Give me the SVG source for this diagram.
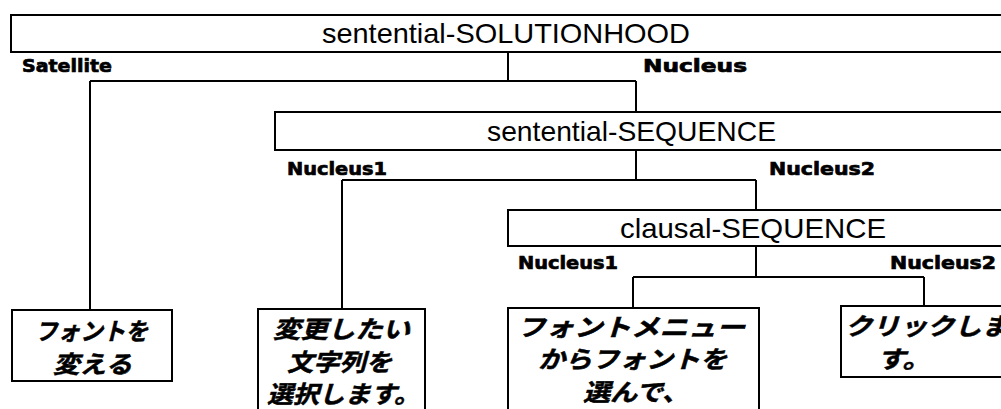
<svg xmlns="http://www.w3.org/2000/svg" width="1001" height="409" viewBox="0 0 1001 409">
<style>
.box{fill:#fff;stroke:#000;stroke-width:2}
.con{fill:none;stroke:#000;stroke-width:2}
.title{font-family:"Liberation Sans",Arial,sans-serif;font-size:28px;fill:#000}
.lab{font-family:"DejaVu Sans","Liberation Sans",sans-serif;font-weight:bold;font-size:18px;fill:#000;stroke:#000;stroke-width:0.7}
.jp{font-family:"Noto Sans CJK JP",sans-serif;font-weight:bold;font-style:italic;font-size:24px;fill:#000;stroke:#000;stroke-width:0.5}
</style>
<rect width="1001" height="409" fill="#fff"/>
<g id="connectors">
<path class="con" d="M508,52V81M90,81H636M90,81V310M636,81V112"/>
<path class="con" d="M636,150V180M342,180H756M342,180V309M756,180V210"/>
<path class="con" d="M756,246V277M633,277H924M633,277V308M924,277V306"/>
</g>
<g id="n-solutionhood">
<rect class="box" x="11" y="15" width="1000" height="37"/>
<text class="title" x="322" y="43" textLength="368" lengthAdjust="spacingAndGlyphs">sentential-SOLUTIONHOOD</text>
</g>
<g id="lab-satellite"><text class="lab" x="22" y="72" textLength="90" lengthAdjust="spacingAndGlyphs">Satellite</text></g>
<g id="lab-nucleus"><text class="lab" x="643" y="72" textLength="104" lengthAdjust="spacingAndGlyphs">Nucleus</text></g>
<g id="n-sequence">
<rect class="box" x="275" y="112" width="740" height="38"/>
<text class="title" x="487" y="141" textLength="289" lengthAdjust="spacingAndGlyphs">sentential-SEQUENCE</text>
</g>
<g id="lab-n1a"><text class="lab" x="287" y="175" textLength="100" lengthAdjust="spacingAndGlyphs">Nucleus1</text></g>
<g id="lab-n2a"><text class="lab" x="769" y="175" textLength="106" lengthAdjust="spacingAndGlyphs">Nucleus2</text></g>
<g id="n-clausal">
<rect class="box" x="508" y="210" width="510" height="36"/>
<text class="title" x="620" y="238" textLength="266" lengthAdjust="spacingAndGlyphs">clausal-SEQUENCE</text>
</g>
<g id="lab-n1b"><text class="lab" x="518" y="269" textLength="100" lengthAdjust="spacingAndGlyphs">Nucleus1</text></g>
<g id="lab-n2b"><text class="lab" x="890" y="269" textLength="106" lengthAdjust="spacingAndGlyphs">Nucleus2</text></g>
<g id="leaf1">
<rect class="box" x="12" y="310" width="160" height="71"/>
<text class="jp" x="35" y="340" textLength="113" lengthAdjust="spacingAndGlyphs">フォントを</text>
<text class="jp" x="53" y="373" textLength="79" lengthAdjust="spacingAndGlyphs">変える</text>
</g>
<g id="leaf2">
<rect class="box" x="258" y="309" width="167" height="110"/>
<text class="jp" x="273" y="338" textLength="137" lengthAdjust="spacingAndGlyphs">変更したい</text>
<text class="jp" x="287" y="371" textLength="105" lengthAdjust="spacingAndGlyphs">文字列を</text>
<text class="jp" x="267" y="403" textLength="153" lengthAdjust="spacingAndGlyphs">選択します。</text>
</g>
<g id="leaf3">
<rect class="box" x="508" y="308" width="251" height="110"/>
<text class="jp" x="517" y="336" textLength="228" lengthAdjust="spacingAndGlyphs">フォントメニュー</text>
<text class="jp" x="538" y="368" textLength="189" lengthAdjust="spacingAndGlyphs">からフォントを</text>
<text class="jp" x="583" y="401" textLength="106" lengthAdjust="spacingAndGlyphs">選んで、</text>
</g>
<g id="leaf4">
<rect class="box" x="841" y="306" width="180" height="71"/>
<text class="jp" x="845" y="335" textLength="164" lengthAdjust="spacingAndGlyphs">クリックしま</text>
<text class="jp" x="877" y="368" textLength="54" lengthAdjust="spacingAndGlyphs">す。</text>
</g>
</svg>
